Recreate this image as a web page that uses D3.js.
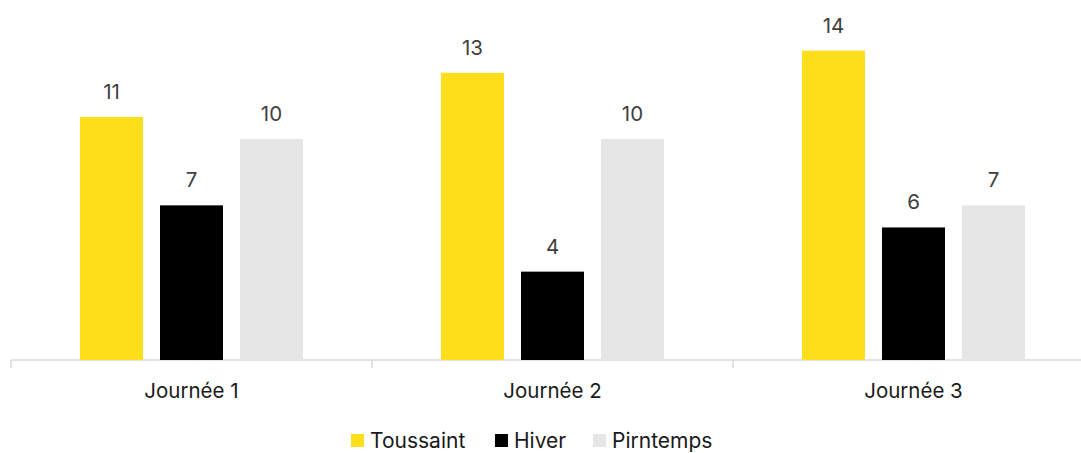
<!DOCTYPE html>
<html>
<head>
<meta charset="utf-8">
<script src="https://cdn.jsdelivr.net/npm/d3@7"></script>
<style>
  body { margin: 0; background: #fff; }
  svg text { font-family: Inter, "Liberation Sans", sans-serif; }
</style>
</head>
<body>
<svg width="1081" height="453"></svg>
<script>
var categories = ['Journée 1', 'Journée 2', 'Journée 3'];
var series = ['Toussaint', 'Hiver', 'Pirntemps'];
var toussaint = [11, 13, 14];
var hiver = [7, 4, 6];
var printemps = [10, 10, 7];

var svg = d3.select('svg'),
    color = d3.scaleOrdinal().domain(series).range(['#FCDE1B', '#000000', '#E6E6E6']);

var values = [toussaint, hiver, printemps];
var data = categories.map(function (c, i) {
    return { cat: c, vals: series.map(function (s, j) { return { key: s, value: values[j][i] }; }) };
});

var x0 = d3.scaleBand().domain(categories).range([11, 1094]);
var x1 = d3.scaleBand().domain(series).range([69, 361 - 69]).paddingInner(17 / 80);
var y = d3.scaleLinear().domain([0, 14]).range([360, 50.7]);

// axis
var axis = svg.append('g').attr('transform', 'translate(0,360)');
axis.append('line').attr('x1', 11).attr('x2', 1094).attr('stroke', '#D9D9D9').attr('stroke-width', 1.5);
axis.selectAll('.tick').data(d3.range(categories.length + 1)).enter().append('line')
    .attr('x1', function (d) { return 11 + d * x0.bandwidth(); })
    .attr('x2', function (d) { return 11 + d * x0.bandwidth(); })
    .attr('y1', 0).attr('y2', 8)
    .attr('stroke', '#D9D9D9').attr('stroke-width', 1.5);
axis.selectAll('.lbl').data(categories).enter().append('text')
    .attr('x', function (d) { return x0(d) + x0.bandwidth() / 2; })
    .attr('y', 38)
    .attr('text-anchor', 'middle')
    .attr('font-size', 20.5)
    .attr('fill', '#1a1a1a')
    .text(function (d) { return d; });

var group = svg.selectAll('.grp').data(data).enter().append('g')
    .attr('transform', function (d) { return 'translate(' + x0(d.cat) + ',0)'; });

group.selectAll('rect').data(function (d) { return d.vals; }).enter().append('rect')
    .attr('x', function (d) { return x1(d.key); })
    .attr('width', x1.bandwidth())
    .attr('y', function (d) { return y(d.value); })
    .attr('height', function (d) { return 360 - y(d.value); })
    .attr('fill', function (d) { return color(d.key); });

group.selectAll('.val').data(function (d) { return d.vals; }).enter().append('text')
    .attr('x', function (d) { return x1(d.key) + x1.bandwidth() / 2; })
    .attr('y', function (d) { return y(d.value) - 18; })
    .attr('text-anchor', 'middle')
    .attr('font-size', 20.5)
    .attr('fill', '#404040')
    .text(function (d) { return d.value; });

// legend
var legX = [351, 495, 593];
var leg = svg.selectAll('.leg').data(series).enter().append('g')
    .attr('transform', function (d, i) { return 'translate(' + legX[i] + ',434)'; });
leg.append('rect').attr('width', 13).attr('height', 13).attr('fill', function (d) { return color(d); });
leg.append('text').attr('x', 19).attr('y', 13.5).attr('font-size', 21).attr('fill', '#1a1a1a')
    .text(function (d) { return d; });
</script>
</body>
</html>
